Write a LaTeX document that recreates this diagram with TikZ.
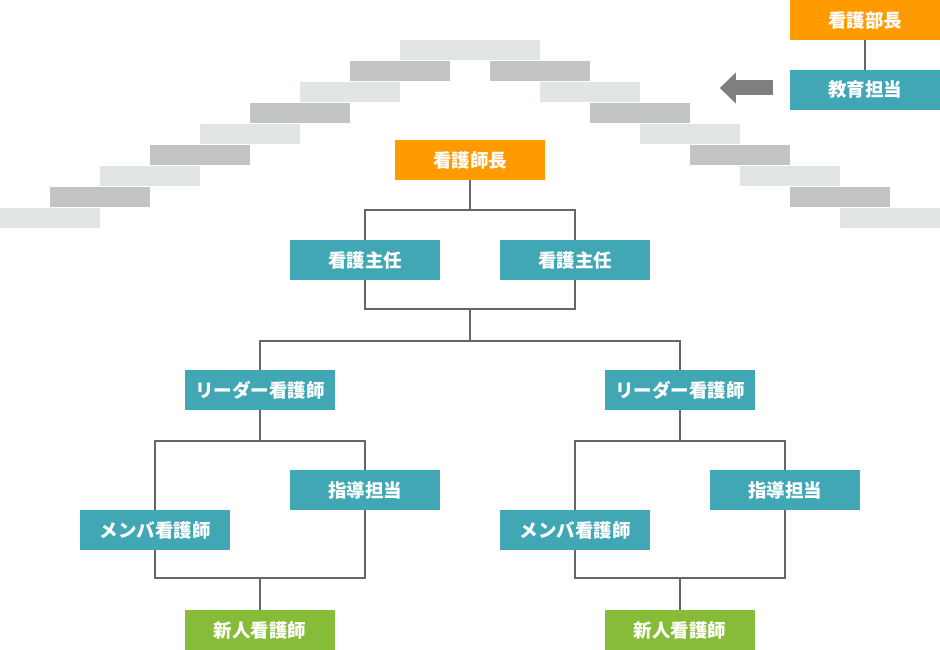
\documentclass[tikz,border=0pt]{standalone}
\usepackage{fontspec}
\usepackage{xcolor}
\usetikzlibrary{arrows.meta}
\newfontfamily\cjk{Noto Sans CJK JP}
\definecolor{kango}{HTML}{42A7B5}
\definecolor{bucho}{HTML}{FF9A00}
\definecolor{shinjin}{HTML}{86BC37}
\definecolor{senn}{HTML}{666666}
\definecolor{dankou}{HTML}{E2E6E3}
\definecolor{danko}{HTML}{C1C4C3}
\definecolor{yaji}{HTML}{7F7F7F}
\tikzset{
  yaku/.style={rectangle,fill=kango,text=white,minimum width=150pt,minimum height=40pt,inner sep=0pt,font=\cjk\bfseries\fontsize{18.5}{22}\selectfont},
  sen/.style={draw=senn,line width=2pt},
  dan/.style={fill=#1}
}

\begin{document}
\begin{tikzpicture}[x=1pt,y=-1pt]
\useasboundingbox (0,0) rectangle (940,650);
% kaidan
\fill[dankou] (400,40) rectangle (540,60);
\foreach \k/\c in {1/danko,2/dankou,3/danko,4/dankou,5/danko,6/dankou,7/danko,8/dankou}{
  \fill[\c] (400-50*\k,40+21*\k) rectangle (500-50*\k,60+21*\k);
  \fill[\c] (440+50*\k,40+21*\k) rectangle (540+50*\k,60+21*\k);}
% kyoiku
\node[yaku,fill=bucho] (bucho) at (865,20) {看護部長};
\node[yaku] (kyoiku) at (865,90) {教育担当};
\draw[sen] (bucho.south) -- (kyoiku.north);
\draw[yaji,line width=15pt,-{Triangle[length=16pt,width=30pt]}] ([xshift=-17pt,yshift=2pt]kyoiku.west) -- ([xshift=-70pt,yshift=2pt]kyoiku.west);
% soshiki
\node[yaku,fill=bucho] (shicho) at (470,160) {看護師長};
\node[yaku] (shuninL) at (365,260) {看護主任};
\node[yaku] (shuninR) at (575,260) {看護主任};
\coordinate (j1) at (470,210);
\coordinate (j2) at (470,309);
\coordinate (j3) at (470,341);
\draw[sen] (shicho.south) -- (j1);
\draw[sen] (shuninL.north) |- (j1) -| (shuninR.north);
\draw[sen] (shuninL.south) |- (j2) -| (shuninR.south);
\draw[sen] (j2) -- (j3);
\foreach \ox/\s in {0/L,420/R}{
  \node[yaku] (leader\s) at (\ox+260,390) {リーダー看護師};
  \node[yaku] (shido\s) at (\ox+365,490) {指導担当};
  \node[yaku] (member\s) at (\ox+155,530) {メンバ看護師};
  \node[yaku,fill=shinjin] (shinjin\s) at (\ox+260,630) {新人看護師};
  \coordinate (ja\s) at (\ox+260,441);
  \coordinate (jb\s) at (\ox+260,578);
  \draw[sen] (leader\s.south) -- (ja\s);
  \draw[sen] (member\s.north) |- (ja\s) -| (shido\s.north);
  \draw[sen] (member\s.south) |- (jb\s) -| (shido\s.south);
  \draw[sen] (jb\s) -- (shinjin\s.north);}
\draw[sen] (leaderL.north) |- (j3) -| (leaderR.north);
\end{tikzpicture}
\end{document}
